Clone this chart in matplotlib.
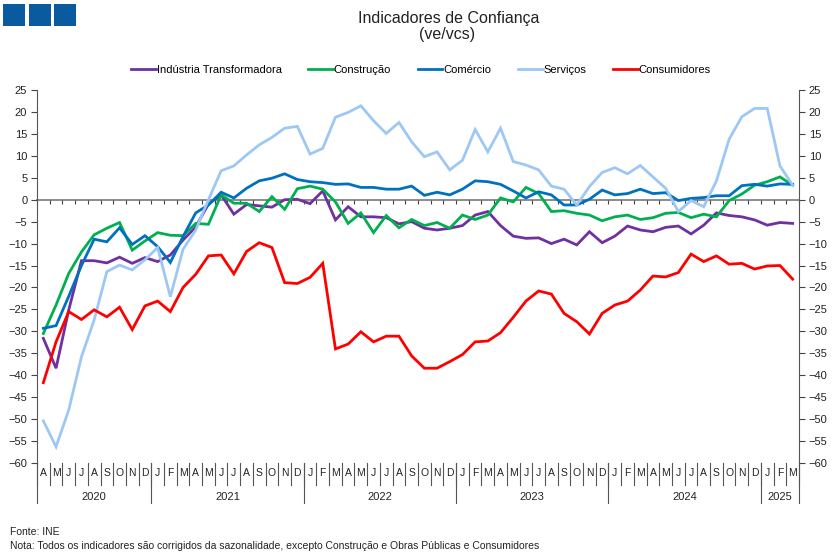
import numpy as np
import matplotlib
matplotlib.use("Agg")
import matplotlib.pyplot as plt
import matplotlib.transforms as mtransforms
from matplotlib.patches import Rectangle

plt.rcParams['font.family'] = ['Liberation Sans', 'DejaVu Sans']

# months Apr 2020 .. Mar 2025
month_letters = list("AMJJASOND") + list("JFMAMJJASOND") * 4 + list("JFM")
years = ["2020", "2021", "2022", "2023", "2024", "2025"]
year_starts = [0, 9, 21, 33, 45, 57, 60]

industria = [-31.6, -38.4, -25.1, -13.9, -13.9, -14.4, -13.1, -14.5, -13.2, -14.1,
             -12.6, -9.2, -6.2, -1.0, 1.1, -3.3, -1.1, -1.4, -1.7, 0.0,
             0.1, -0.9, 2.0, -4.6, -1.6, -3.9, -3.9, -4.1, -5.5, -5.0,
             -6.5, -6.9, -6.5, -5.9, -3.5, -2.7, -5.9, -8.3, -8.8, -8.7,
             -10.0, -9.0, -10.3, -7.3, -9.8, -8.3, -6.0, -6.9, -7.3, -6.3,
             -6.0, -7.8, -5.8, -3.0, -3.6, -3.9, -4.6, -5.8, -5.2, -5.4]
construcao = [-30.5, -24.0, -16.8, -11.9, -8.0, -6.5, -5.2, -11.5, -9.4, -7.5,
              -8.1, -8.2, -5.4, -5.6, 1.1, -0.8, -0.8, -2.7, 0.7, -2.2,
              2.5, 3.1, 2.4, -0.5, -5.4, -3.0, -7.5, -3.6, -6.4, -4.5,
              -5.9, -5.2, -6.5, -3.5, -4.5, -3.5, 0.4, -0.5, 2.8, 1.4,
              -2.7, -2.5, -3.1, -3.5, -4.8, -3.9, -3.5, -4.5, -4.1, -3.1,
              -2.9, -4.1, -3.3, -3.9, -0.2, 1.3, 3.3, 4.1, 5.2, 3.3]
comercio = [-29.3, -28.7, -22.0, -15.0, -9.0, -9.6, -6.4, -10.2, -8.2, -10.7,
            -14.3, -8.4, -3.0, -1.2, 1.7, 0.4, 2.6, 4.3, 4.9, 5.9,
            4.6, 4.1, 3.9, 3.5, 3.6, 2.8, 2.8, 2.4, 2.4, 3.1,
            1.0, 1.7, 1.1, 2.4, 4.3, 4.1, 3.5, 2.0, 0.4, 1.8,
            1.1, -1.2, -1.2, 0.1, 2.2, 1.1, 1.4, 2.4, 1.4, 1.6,
            -0.2, 0.3, 0.5, 0.9, 0.9, 3.2, 3.5, 3.1, 3.6, 3.5]
servicos = [-50.4, -56.3, -47.9, -35.8, -27.4, -16.4, -14.9, -16.0, -13.7, -10.9,
            -22.1, -11.3, -6.9, 0.0, 6.6, 7.7, 10.2, 12.5, 14.2, 16.3,
            16.7, 10.4, 11.7, 18.8, 19.9, 21.4, 18.0, 15.1, 17.6, 13.2,
            9.8, 10.9, 6.8, 9.0, 16.0, 10.9, 16.3, 8.7, 7.9, 6.8,
            3.1, 2.4, -1.2, 3.0, 6.2, 7.3, 5.9, 7.8, 5.2, 2.6,
            -2.7, -0.2, -1.6, 4.3, 13.8, 18.9, 20.8, 20.8, 7.7, 3.3]
consumidores = [-41.7, -32.4, -25.5, -27.3, -25.1, -26.7, -24.5, -29.6, -24.2, -23.1,
                -25.5, -20.0, -17.0, -12.8, -12.6, -16.9, -11.8, -9.8, -10.9, -18.9,
                -19.1, -17.7, -14.5, -34.0, -32.9, -30.1, -32.4, -31.1, -31.1, -35.6,
                -38.4, -38.4, -36.9, -35.3, -32.4, -32.2, -30.3, -26.8, -23.1, -20.8,
                -21.5, -25.9, -27.8, -30.6, -25.9, -24.0, -23.1, -20.6, -17.4, -17.6,
                -16.6, -12.4, -14.1, -12.8, -14.7, -14.5, -15.8, -15.1, -15.0, -18.1]

series = [
    ("Indústria Transformadora", industria, "#7030A0"),
    ("Construção", construcao, "#00B050"),
    ("Comércio", comercio, "#0070C0"),
    ("Serviços", servicos, "#9DC8F5"),
    ("Consumidores", consumidores, "#FF0000"),
]

fig = plt.figure(figsize=(8.39, 5.59), dpi=100)
ax = fig.add_axes([37 / 839, 1 - 463 / 559, 762 / 839, 373 / 559])

x = np.arange(len(month_letters))
for name, vals, col in series:
    ax.plot(x, vals, color=col, lw=2.0, label=name, solid_joinstyle="miter")

ax.set_xlim(-0.5, len(month_letters) - 0.5)
ax.set_ylim(-60, 25)
yt = np.arange(-60, 26, 5)
ax.set_yticks(yt)
ax.tick_params(axis="y", direction="out", length=4, color="#444444", labelsize=8,
               labelcolor="#222222", right=True, labelright=True, pad=3)

# zero line as x axis
ax.spines["bottom"].set_position(("data", 0))
ax.spines["bottom"].set_color("#8c8c8c")
ax.spines["bottom"].set_linewidth(1.4)
ax.spines["bottom"].set_zorder(1)
ax.set_xticks(np.arange(-0.5, len(month_letters), 1.0))
ax.tick_params(axis="x", direction="out", length=3, width=0.8, color="#444444",
               labelbottom=False)
ax.spines["top"].set_visible(False)
for s in ("left", "right"):
    ax.spines[s].set_color("#555555")
    ax.spines[s].set_linewidth(0.8)

# month / year labels below the plot
tr = mtransforms.blended_transform_factory(ax.transData, ax.transAxes)
for i, m in enumerate(month_letters):
    ax.text(i, -0.028, m, transform=tr, ha="center", va="center", fontsize=7.5,
            color="#222222")
for b in range(len(month_letters) + 1):
    ax.plot([b - 0.5, b - 0.5], [0, -0.058], transform=tr, color="#555555",
            lw=0.8, clip_on=False)
for b in year_starts:
    ax.plot([b - 0.5, b - 0.5], [0, -0.108], transform=tr, color="#555555",
            lw=0.8, clip_on=False)
for k, yr in enumerate(years):
    mid = (year_starts[k] + year_starts[k + 1] - 1) / 2
    ax.text(mid, -0.09, yr, transform=tr, ha="center", va="center", fontsize=8,
            color="#222222")

# title and legend
fig.text(449 / 839, 1 - 18 / 559, "Indicadores de Confiança", ha="center", va="center",
         fontsize=11.5, color="#222222")
fig.text(447 / 839, 1 - 34.5 / 559, "(ve/vcs)", ha="center", va="center", fontsize=11.5,
         color="#222222")
fig.legend(loc="center", bbox_to_anchor=(421 / 839, 1 - 70 / 559), ncol=5, frameon=False,
           fontsize=8, handlelength=2.2, handletextpad=0.1, columnspacing=2.4)

# logo squares
for k in range(3):
    fig.add_artist(Rectangle(((3 + 25.5 * k) / 839, 1 - 26 / 559), 22 / 839, 22 / 559,
                             transform=fig.transFigure, color="#0A5AA0", lw=0))

fig.text(10 / 839, 1 - 532 / 559, "Fonte: INE", ha="left", va="center", fontsize=7.5,
         color="#222222")
fig.text(10 / 839, 1 - 546 / 559,
         "Nota: Todos os indicadores são corrigidos da sazonalidade, excepto Construção e Obras Públicas e Consumidores",
         ha="left", va="center", fontsize=7.5, color="#222222")

fig.savefig("out.png", dpi=100)
